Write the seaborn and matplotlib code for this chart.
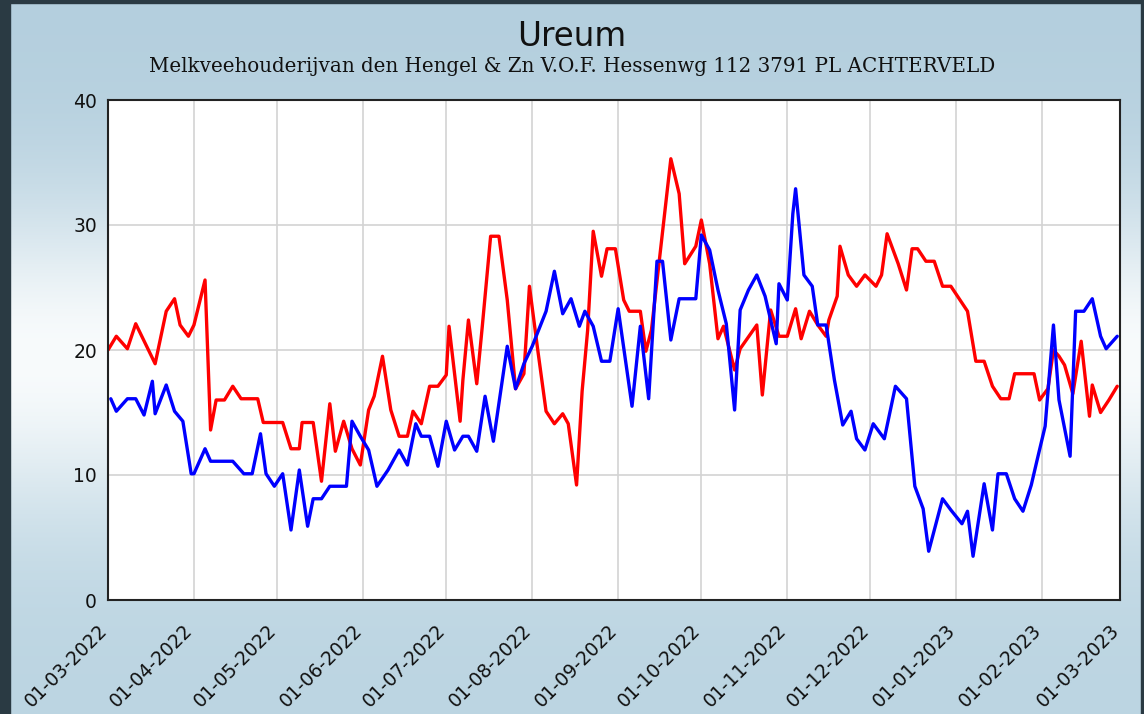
import numpy as np
import pandas as pd
import matplotlib
matplotlib.use("Agg")
import matplotlib.pyplot as plt
import matplotlib.dates as mdates
import matplotlib.transforms as mtransforms
import seaborn as sns

# ── Data (days after 01-03-2022, ureum value) ────────────────────────────────
start = pd.Timestamp("2022-03-01")

red_days = [0, 3, 7, 10, 17, 21, 24, 26, 29, 31, 35, 37, 39, 42, 45, 48, 54,
            56, 63, 66, 69, 70, 74, 77, 80, 82, 85, 88, 91, 94, 96, 99, 102,
            105, 108, 110, 113, 116, 119, 122, 123, 127, 128, 130, 133, 135,
            138, 141, 144, 147, 150, 152, 155, 158, 161, 164, 166, 169, 171,
            173, 175, 178, 180, 183, 186, 188, 192, 194, 196, 203, 206, 208,
            212, 214, 217, 220, 222, 226, 228, 234, 236, 239, 242, 245, 248,
            250, 253, 256, 259, 260, 263, 264, 267, 270, 273, 277, 279, 281,
            285, 288, 290, 292, 295, 298, 301, 304, 307, 310, 313, 316, 319,
            322, 325, 327, 334, 336, 339, 341, 343, 345, 348, 350, 351, 354,
            355, 358, 361, 364]
red_vals = [20, 21.1, 20.1, 22.1, 18.9, 23.1, 24.1, 22, 21.1, 22, 25.6, 13.6,
            16, 16, 17.1, 16.1, 16.1, 14.2, 14.2, 12.1, 12.1, 14.2, 14.2, 9.5,
            15.7, 11.9, 14.3, 12.1, 10.8, 15.2, 16.3, 19.5, 15.2, 13.1, 13.1,
            15.1, 14.1, 17.1, 17.1, 18, 21.9, 14.3, 17.6, 22.4, 17.3, 21.9,
            29.1, 29.1, 24, 16.9, 18.1, 25.1, 20, 15.1, 14.1, 14.9, 14.1, 9.2,
            16.7, 21.6, 29.5, 25.9, 28.1, 28.1, 24, 23.1, 23.1, 19.9, 21.6,
            35.3, 32.5, 26.9, 28.3, 30.4, 26.9, 20.9, 21.9, 18.4, 20.1, 22,
            16.4, 23.2, 21.1, 21.1, 23.3, 20.9, 23.1, 22, 21.1, 22.4, 24.3,
            28.3, 26, 25.1, 26, 25.1, 26, 29.3, 26.9, 24.8, 28.1, 28.1, 27.1,
            27.1, 25.1, 25.1, 24.1, 23.1, 19.1, 19.1, 17.1, 16.1, 16.1, 18.1,
            18.1, 16, 16.9, 20, 19.5, 18.8, 16.5, 19.3, 20.7, 14.7, 17.2, 15,
            16, 17.1]

blue_days = [1, 3, 7, 10, 13, 16, 17, 21, 24, 27, 30, 31, 35, 37, 45, 49, 52,
             55, 57, 60, 63, 66, 69, 72, 74, 77, 80, 86, 88, 91, 94, 97, 101,
             105, 108, 111, 113, 116, 119, 122, 125, 128, 130, 133, 136, 139,
             144, 147, 150, 153, 158, 161, 164, 167, 170, 172, 175, 178, 181,
             184, 189, 192, 195, 198, 200, 203, 206, 212, 214, 217, 220, 223,
             226, 228, 231, 234, 237, 241, 242, 245, 247, 248, 251, 254, 256,
             259, 262, 265, 268, 270, 273, 276, 280, 284, 288, 291, 294, 296,
             301, 304, 308, 310, 312, 316, 319, 321, 324, 327, 330, 333, 335,
             338, 341, 343, 347, 349, 352, 355, 358, 360, 364]
blue_vals = [16.1, 15.1, 16.1, 16.1, 14.8, 17.5, 14.9, 17.2, 15.1, 14.3, 10.1,
             10.1, 12.1, 11.1, 11.1, 10.1, 10.1, 13.3, 10.1, 9.1, 10.1, 5.6,
             10.4, 5.9, 8.1, 8.1, 9.1, 9.1, 14.3, 13.1, 12, 9.1, 10.4, 12, 10.8,
             14.1, 13.1, 13.1, 10.7, 14.3, 12, 13.1, 13.1, 11.9, 16.3, 12.7,
             20.3, 16.9, 18.9, 20.3, 23.1, 26.3, 22.9, 24.1, 21.9, 23.1, 21.9,
             19.1, 19.1, 23.3, 15.5, 21.9, 16.1, 27.1, 27.1, 20.8, 24.1, 24.1,
             29.2, 28, 24.8, 22.1, 15.2, 23.2, 24.8, 26, 24.3, 20.5, 25.3, 24,
             30.9, 32.9, 26, 25.1, 22, 22, 17.6, 14, 15.1, 12.9, 12, 14.1, 12.9,
             17.1, 16.1, 9.1, 7.3, 3.9, 8.1, 7.2, 6.1, 7.1, 3.5, 9.3, 5.6, 10.1,
             10.1, 8.1, 7.1, 9.2, 11.1, 13.9, 22, 16, 11.5, 23.1, 23.1, 24.1,
             21.1, 20.1, 21.1]

title = "Ureum"
subtitle = "Melkveehouderijvan den Hengel & Zn V.O.F. Hessenwg 112 3791 PL ACHTERVELD"

red = pd.DataFrame({"datum": start + pd.to_timedelta(red_days, unit="D"),
                    "ureum": red_vals})
blue = pd.DataFrame({"datum": start + pd.to_timedelta(blue_days, unit="D"),
                     "ureum": blue_vals})

# ── Figure ────────────────────────────────────────────────────────────────────
sns.set_style("white")
plt.rcParams["font.family"] = ["DejaVu Sans"]

fig = plt.figure(figsize=(11.44, 7.14), dpi=100)

# background gradient: blue at top and bottom, almost white in the middle
bg = fig.add_axes([0, 0, 1, 1], zorder=-10)
t = np.linspace(0, 1, 400)[:, None]
w = np.exp(-((t - 0.5) / 0.22) ** 2)
top = np.array([180, 207, 222]) / 255
bot = np.array([188, 213, 226]) / 255
mix = np.where(t < 0.5, 1, 0)
base = top * mix[..., None] + bot * (1 - mix[..., None])
white = np.array([248, 251, 252]) / 255
img = base * (1 - w[..., None]) + white * w[..., None]
img = np.repeat(img, 2, axis=1)
bg.imshow(img, aspect="auto", extent=[0, 1, 0, 1])
bg.set_axis_off()
# dark window frame
fig.patches.append(plt.Rectangle((0, 0), 8 / 1144, 1, transform=fig.transFigure,
                                 color="#2a3a43", zorder=-5))
fig.patches.append(plt.Rectangle((9 / 1144, 0), 1.2 / 1144, 1, transform=fig.transFigure,
                                 color="#2a3a43", zorder=-5))
fig.patches.append(plt.Rectangle((0, 1 - 3 / 714), 1, 3 / 714, transform=fig.transFigure,
                                 color="#2a3a43", zorder=-5))
fig.patches.append(plt.Rectangle((1 - 3 / 1144, 0), 3 / 1144, 1, transform=fig.transFigure,
                                 color="#2a3a43", zorder=-5))

ax = fig.add_axes([108 / 1144, 1 - 600 / 714, 1012 / 1144, 500 / 714])
ax.set_facecolor("white")

sns.lineplot(data=red, x="datum", y="ureum", color="#ff0000", lw=2.4, ax=ax)
sns.lineplot(data=blue, x="datum", y="ureum", color="#0000ff", lw=2.4, ax=ax)

ax.set_xlim(pd.Timestamp("2022-03-01"), pd.Timestamp("2023-03-01"))
ax.set_ylim(0, 40)
ax.set_yticks([0, 10, 20, 30, 40])
ax.xaxis.set_major_locator(mdates.MonthLocator(bymonthday=1))
ax.xaxis.set_major_formatter(mdates.DateFormatter("%d-%m-%Y"))
ax.grid(True, color="#d3d3d3", lw=1.2)
ax.set_axisbelow(True)
ax.set_xlabel("")
ax.set_ylabel("")
for s in ax.spines.values():
    s.set_color("#222222")
    s.set_linewidth(1.5)
ax.tick_params(axis="both", direction="out", length=6, width=1.3,
               color="#222222", labelsize=13.5, labelcolor="#111111", pad=2)
ax.tick_params(axis="x", pad=14)
shift = mtransforms.ScaledTranslation(-4 / 100, 0, fig.dpi_scale_trans)
for lbl in ax.get_xticklabels():
    lbl.set_rotation(45)
    lbl.set_ha("right")
    lbl.set_va("center")
    lbl.set_rotation_mode("anchor")
    lbl.set_transform(lbl.get_transform() + shift)

fig.text(0.5, 1 - 37 / 714, title, ha="center", va="center", fontsize=23.5,
         color="#111111")
fig.text(0.5, 1 - 66 / 714, subtitle, ha="center", va="center", fontsize=14.3,
         family="DejaVu Serif", color="#111111")

plt.savefig("out.png", dpi=100)
plt.close(fig)
